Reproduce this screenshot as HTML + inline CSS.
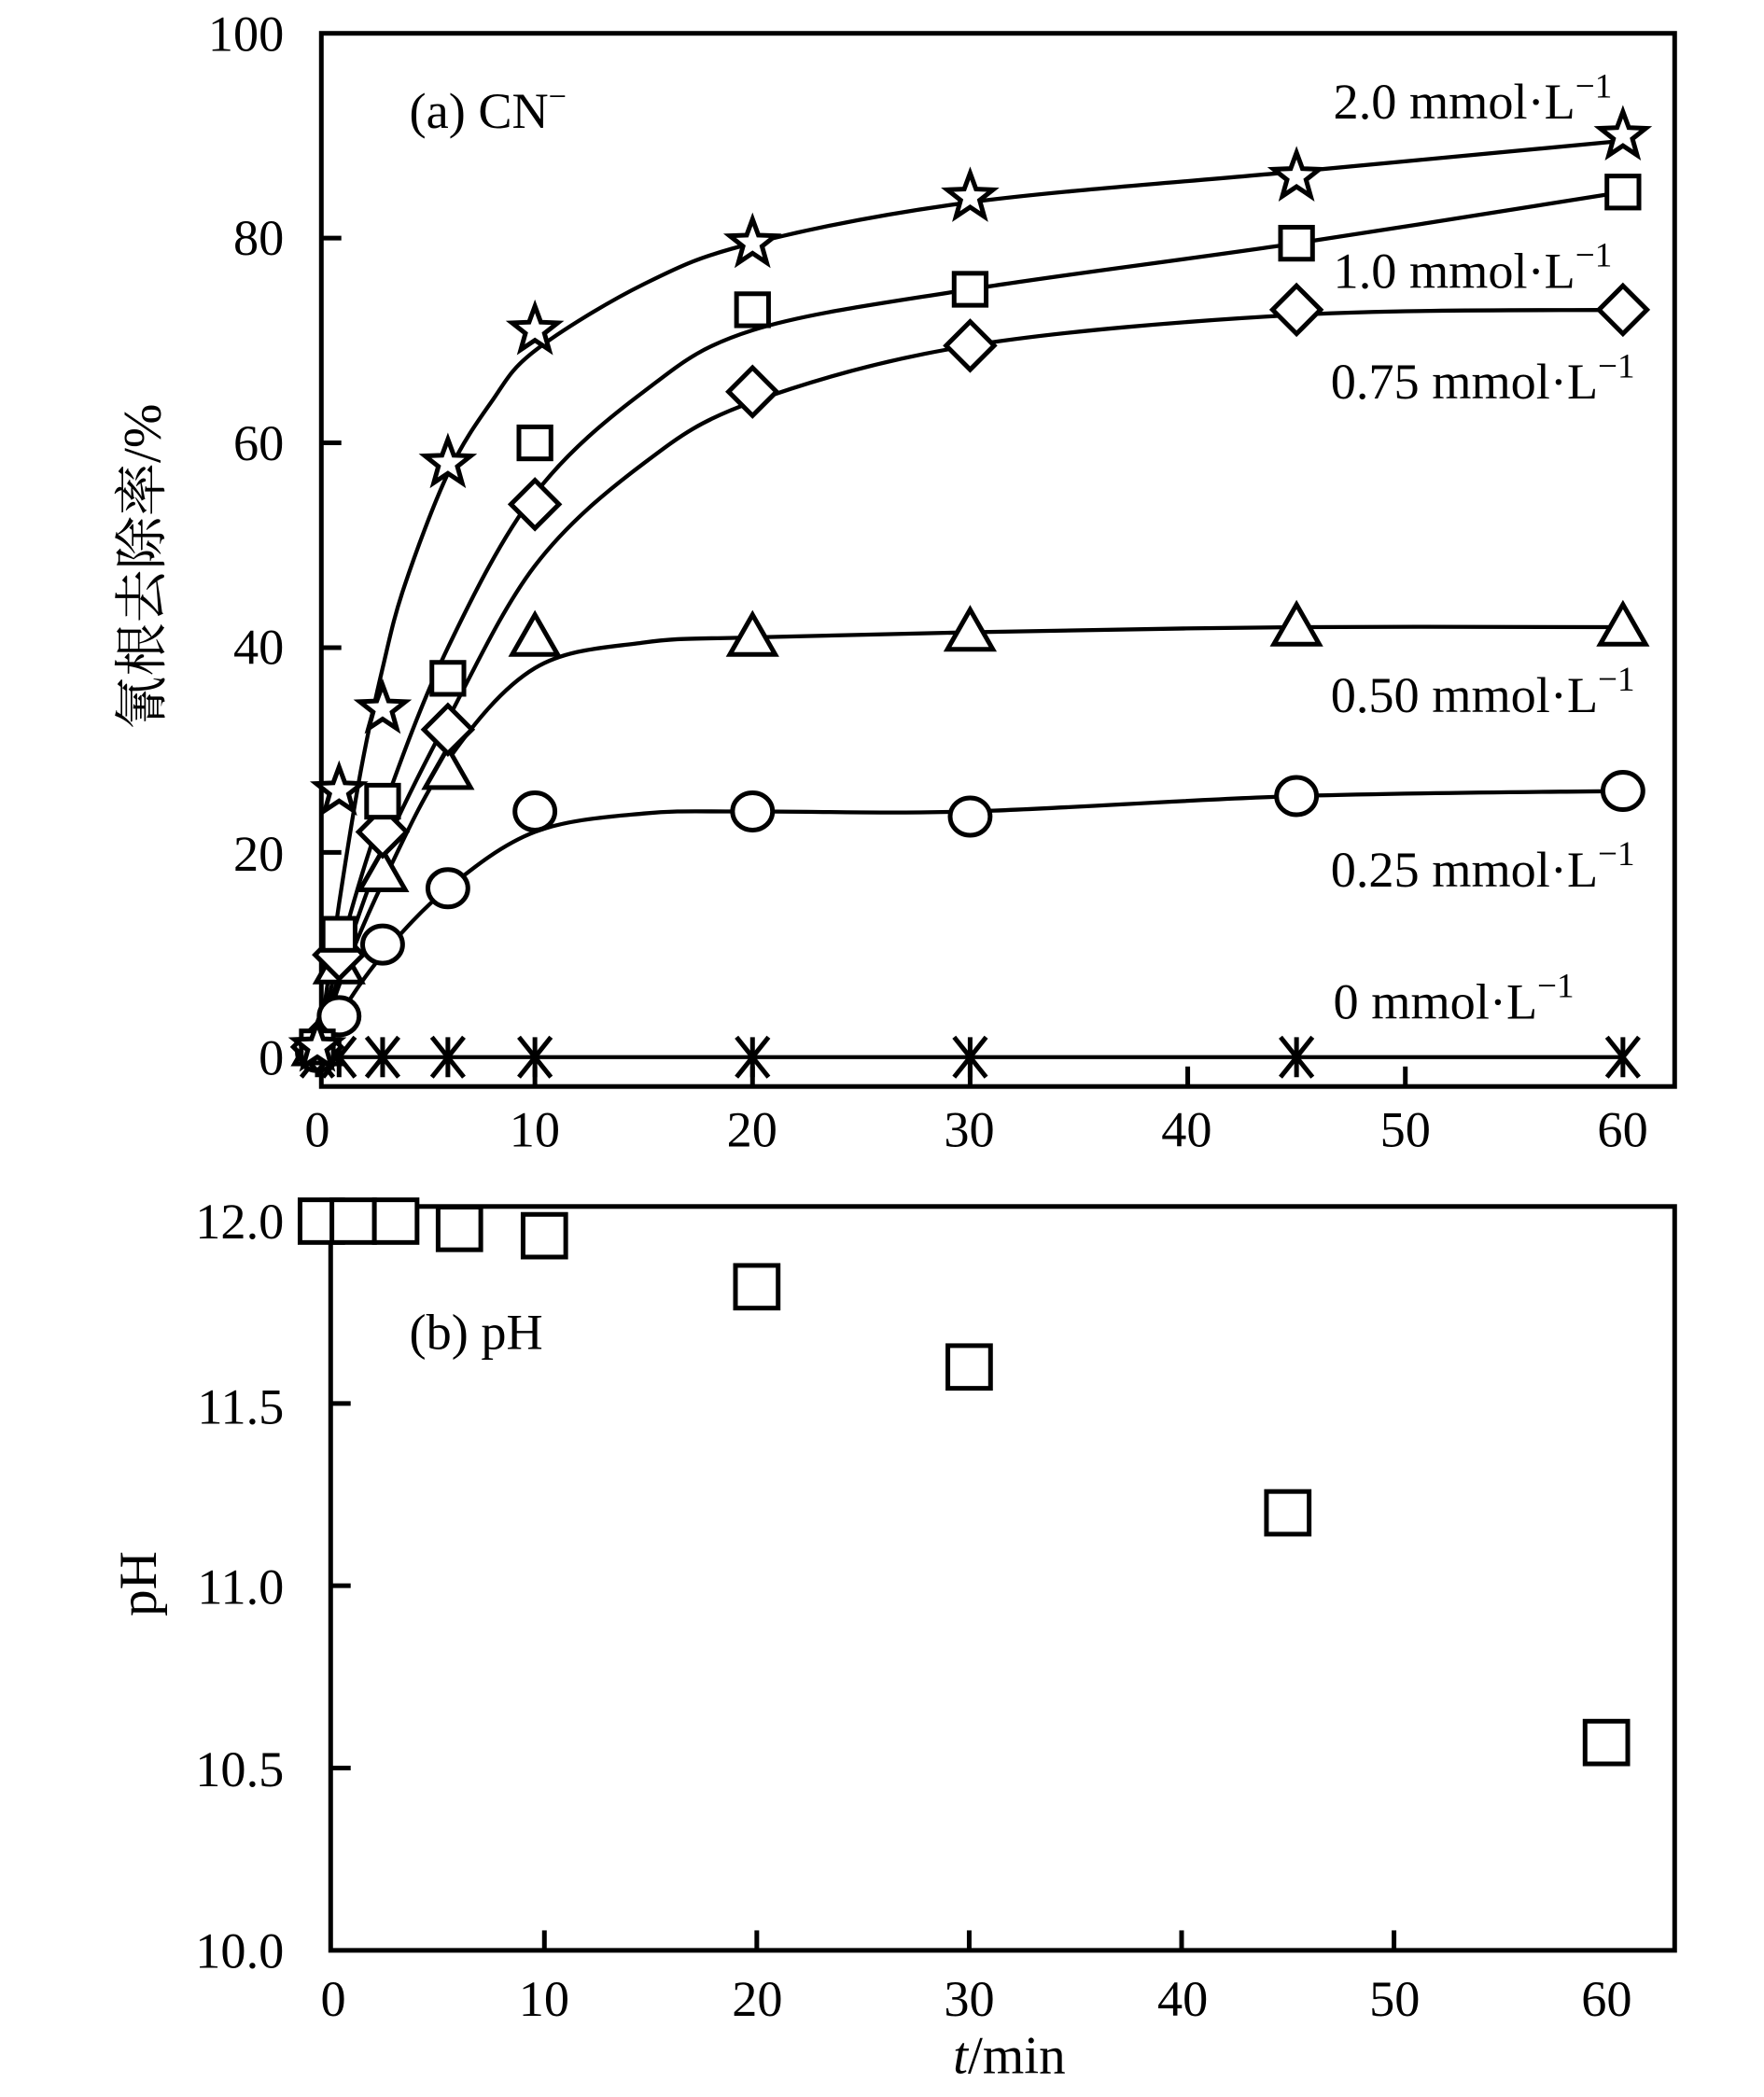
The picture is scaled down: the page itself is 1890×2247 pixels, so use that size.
<!DOCTYPE html>
<html><head><meta charset="utf-8"><style>
html,body{margin:0;padding:0;background:#fff;}
svg{display:block;}
text{font-family:"Liberation Serif","Noto Serif CJK SC",serif;fill:#000;}
</style></head><body>
<svg id="s" xmlns="http://www.w3.org/2000/svg" width="1890" height="2247" viewBox="0 0 1323 1573" preserveAspectRatio="none">
<rect width="1323" height="1573" fill="#fff"/>
<g id="g" fill="none" stroke="#000" stroke-width="3.5"></g>
<g font-size="38">
<text x="213" y="38" text-anchor="end">100</text>
<text x="213" y="191" text-anchor="end">80</text>
<text x="213" y="345" text-anchor="end">60</text>
<text x="213" y="498" text-anchor="end">40</text>
<text x="213" y="653" text-anchor="end">20</text>
<text x="213" y="806" text-anchor="end">0</text>
<text x="238" y="860" text-anchor="middle">0</text>
<text x="401" y="860" text-anchor="middle">10</text>
<text x="564" y="860" text-anchor="middle">20</text>
<text x="727" y="860" text-anchor="middle">30</text>
<text x="890" y="860" text-anchor="middle">40</text>
<text x="1054" y="860" text-anchor="middle">50</text>
<text x="1217" y="860" text-anchor="middle">60</text>
<text x="213" y="929" text-anchor="end">12.0</text>
<text x="213" y="1068" text-anchor="end">11.5</text>
<text x="213" y="1203" text-anchor="end">11.0</text>
<text x="213" y="1340" text-anchor="end">10.5</text>
<text x="213" y="1476" text-anchor="end">10.0</text>
<text x="250" y="1512" text-anchor="middle">0</text>
<text x="408" y="1512" text-anchor="middle">10</text>
<text x="568" y="1512" text-anchor="middle">20</text>
<text x="727" y="1512" text-anchor="middle">30</text>
<text x="887" y="1512" text-anchor="middle">40</text>
<text x="1046" y="1512" text-anchor="middle">50</text>
<text x="1205" y="1512" text-anchor="middle">60</text>
<text x="307" y="96">(a) CN<tspan dy="-16" font-size="24">−</tspan></text>
<text x="307" y="1012">(b) pH</text>
<text x="1000" y="89">2.0 mmol·L<tspan dy="-16" font-size="26">−1</tspan></text>
<text x="1000" y="216">1.0 mmol·L<tspan dy="-16" font-size="26">−1</tspan></text>
<text x="998" y="299">0.75 mmol·L<tspan dy="-16" font-size="26">−1</tspan></text>
<text x="998" y="534">0.50 mmol·L<tspan dy="-16" font-size="26">−1</tspan></text>
<text x="998" y="665">0.25 mmol·L<tspan dy="-16" font-size="26">−1</tspan></text>
<text x="1000" y="764">0 mmol·L<tspan dy="-16" font-size="26">−1</tspan></text>
<text x="757" y="1555" text-anchor="middle" font-size="40"><tspan font-style="italic">t</tspan>/min</text>
<text transform="translate(120,425) rotate(-90)" text-anchor="middle" font-size="40">氰根去除率/%</text>
<text transform="translate(117,1188) rotate(-90)" text-anchor="middle" font-size="40">pH</text>
</g>
</svg>
<script>
var g=document.getElementById('g'),NS='http://www.w3.org/2000/svg';
function el(t,a){var e=document.createElementNS(NS,t);for(var k in a)e.setAttribute(k,a[k]);g.appendChild(e);return e;}
function X(t){return 238+16.32*t;} function Y(v){return 793-7.68*v;}
function XB(t){return 249+15.93*t;} function YB(v){return 1463-(v-10)*273.5;}
el('rect',{x:241,y:25,width:1015,height:790});
el('rect',{x:248,y:905,width:1008,height:558});
[10,20,30,40,50].forEach(function(t){el('line',{x1:X(t),y1:815,x2:X(t),y2:800});el('line',{x1:XB(t),y1:1463,x2:XB(t),y2:1448});});
[20,40,60,80].forEach(function(v){el('line',{x1:241,y1:Y(v),x2:256,y2:Y(v)});});
[10.5,11,11.5].forEach(function(v){el('line',{x1:248,y1:YB(v),x2:263,y2:YB(v)});});
function curve(pts){var p=pts.map(function(a){return [X(a[0]),Y(a[1])];});var d='M'+p[0][0]+','+p[0][1];
for(var i=0;i<p.length-1;i++){var p0=p[Math.max(0,i-1)],p1=p[i],p2=p[i+1],p3=p[Math.min(p.length-1,i+2)];
d+=' C'+(p1[0]+(p2[0]-p0[0])/6)+','+(p1[1]+(p2[1]-p0[1])/6)+' '+(p2[0]-(p3[0]-p1[0])/6)+','+(p2[1]-(p3[1]-p1[1])/6)+' '+p2[0]+','+p2[1];}
el('path',{d:d,'stroke-width':3});}
curve([[0,0],[1,15],[2,28],[3,38],[4,46],[6,57],[8,64],[10,69],[15,75.5],[20,79.5],[30,83.5],[45,86.5],[60,89.5]]);
curve([[0,0],[1,10],[3,24],[6,40],[10,55],[15,65],[20,71],[30,75],[45,79.5],[60,84.5]]);
curve([[0,0],[1,8],[3,20],[6,33],[10,48],[15,58],[20,64],[30,69.5],[45,72.5],[60,73]]);
curve([[0,0],[1,7],[3,17],[6,29],[10,38],[15,40.5],[20,41],[30,41.5],[45,42],[60,42]]);
curve([[0,0],[1,4],[3,10],[6,16.5],[10,22],[15,23.8],[20,24],[30,24],[45,25.5],[60,26]]);
el('line',{x1:X(0),y1:Y(0),x2:X(60),y2:Y(0),'stroke-width':3});
var W='#fff';
function sq(x,y,s){el('rect',{x:x-s,y:y-s,width:2*s,height:2*s,fill:W});}
function ci(x,y){el('ellipse',{cx:x,cy:y,rx:15,ry:14,fill:W});}
function di(x,y){var r=18;el('polygon',{points:[x,y-r,x+r,y,x,y+r,x-r,y].join(' '),fill:W});}
function tr(x,y){var r=17;el('polygon',{points:[x,y-r,x+r,y+r*0.75,x-r,y+r*0.75].join(' '),fill:W});}
function st(x,y){var a=[];for(var i=0;i<10;i++){var r=i%2?7.5:18,an=-Math.PI/2+i*Math.PI/5;a.push(x+r*Math.cos(an),y+r*Math.sin(an));}el('polygon',{points:a.join(' '),fill:W});}
function as(x,y){var r=15;el('line',{x1:x,y1:y-r,x2:x,y2:y+r});el('line',{x1:x-r*0.8,y1:y-r,x2:x+r*0.8,y2:y+r});el('line',{x1:x+r*0.8,y1:y-r,x2:x-r*0.8,y2:y+r});}
var T=[0,1,3,6,10,20,30,45,60];
T.forEach(function(t,i){as(X(t),Y(0));});
[0.5,4,11,16.5,24,24,23.5,25.5,26].forEach(function(v,i){ci(X(T[i]),Y(v));});
[1,9,18,28,41,41,41.5,42,42].forEach(function(v,i){tr(X(T[i]),Y(v));});
[1,10,22,32,54,65,69.5,73,73].forEach(function(v,i){di(X(T[i]),Y(v));});
[1,12,25,37,60,73,75,79.5,84.5].forEach(function(v,i){sq(X(T[i]),Y(v),12);});
[1,26,34,58,71,79.5,84,86,90].forEach(function(v,i){st(X(T[i]),Y(v));});
[[-0.5,12],[1,12],[3,12],[6,11.98],[10,11.96],[20,11.82],[30,11.6],[45,11.2],[60,10.57]].forEach(function(a){sq(XB(a[0]),YB(a[1]),16);});
</script>
</body></html>
